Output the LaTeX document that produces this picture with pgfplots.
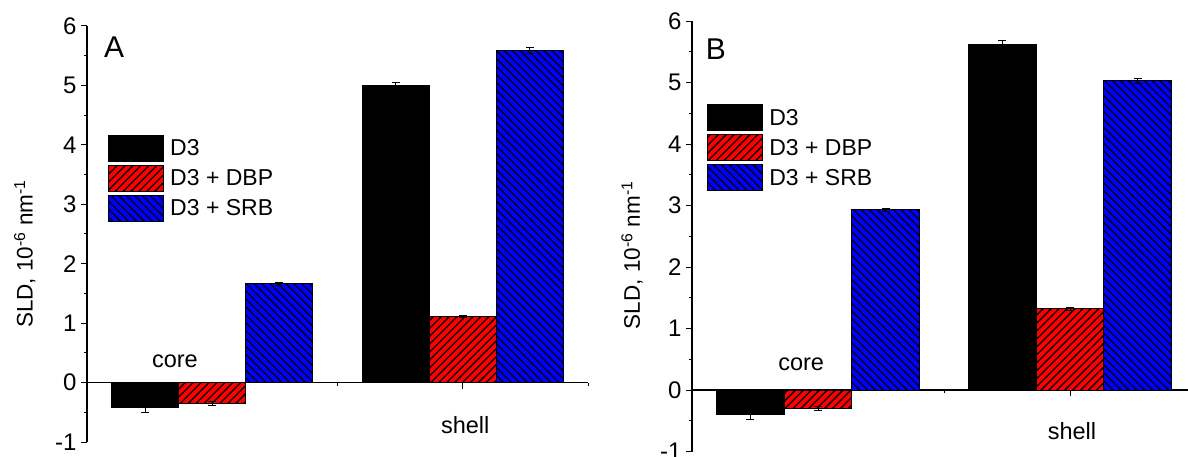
\documentclass[border=0pt]{standalone}
\usepackage{fontspec}
\setmainfont{Liberation Sans}
\usepackage{pgfplots}
\pgfplotsset{compat=1.18}
\usetikzlibrary{patterns.meta}

\pgfplotsset{
 sld/.style={
   scale only axis,
   xmin=0.5,xmax=2.5,ymin=-1,ymax=6,
   axis y line*=left, axis x line*=middle,
   xtick={1,2}, xticklabels={}, minor xtick={1.5,2.5},
   ytick={-1,0,...,6}, minor ytick={-0.5,0.5,...,5.5},
   tick align=outside,
   major tick length=6bp, minor tick length=3bp,
   every tick/.style={black, line width=1bp},
   axis line style={black, line width=1.2bp},
   tick label style={font=\fontsize{24bp}{27bp}\selectfont},
   /pgf/number format/assume math mode=true,
   yticklabel style={xshift=-1bp},
   ylabel={SLD, 10\textsuperscript{-6} nm\textsuperscript{-1}},
   ylabel style={font=\fontsize{22.5bp}{25bp}\selectfont},
   bar width=0.268,
   legend style={draw=none, fill=none, anchor=north west,
     font=\fontsize{23bp}{26bp}\selectfont, row sep=3bp, inner sep=0pt,
     cells={anchor=west}},
   error bars/error bar style={black, line width=0.8bp},
   error bars/error mark options={black, line width=0.8bp, mark size=4bp, rotate=90},
 },
 barleg/.style={legend image code/.code={\draw[##1] (0bp,-13bp) rectangle (55bp,13bp);}},
 d3/.style={ybar, bar shift=0, fill=black, draw=black, line width=1bp, barleg,
    error bars/.cd, y dir=both, y explicit},
 dbp/.style={ybar, bar shift=0, fill=red, draw=black, line width=1bp, barleg,
    postaction={pattern={Lines[angle=45,distance=5.6bp,line width=1.3bp]}, pattern color=black},
    error bars/.cd, y dir=both, y explicit},
 srb/.style={ybar, bar shift=0, fill=blue, draw=black, line width=1bp, barleg,
    postaction={pattern={Lines[angle=-45,distance=5.6bp,line width=1.3bp]}, pattern color=black},
    error bars/.cd, y dir=both, y explicit},
}

\begin{document}
\begin{tikzpicture}
\useasboundingbox (0,0) rectangle (1188bp,457bp);
% Panel A
\begin{axis}[sld, at={(87bp,15bp)}, anchor=south west, width=501bp, height=416bp,
  ylabel style={at={(axis description cs:-0.124,0.452)}, anchor=center},
  legend style={at={(axis description cs:0.042,0.738)}}]
\addplot[d3] coordinates {(0.732,-0.42) +- (0,0.09) (1.732,5.00) +- (0,0.05)};
\addplot[dbp] coordinates {(1,-0.35) +- (0,0.03) (2,1.11) +- (0,0.02)};
\addplot[srb] coordinates {(1.268,1.66) +- (0,0.03) (2.268,5.59) +- (0,0.05)};
\legend{\hspace{4bp}D3, \hspace{4bp}D3 + DBP, \hspace{4bp}D3 + SRB}
\node[font=\fontsize{23.5bp}{26bp}\selectfont, anchor=base] at (axis cs:0.851,0.26) {core};
\node[font=\fontsize{23.5bp}{26bp}\selectfont, anchor=base] at (axis cs:2.01,-0.85) {shell};
\node[font=\fontsize{30bp}{34bp}\selectfont, anchor=center] at (axis cs:0.608,5.64) {A};
\end{axis}
% Panel B
\begin{axis}[sld, at={(692bp,5.5bp)}, anchor=south west, width=504bp, height=430.5bp,
  ylabel style={at={(axis description cs:-0.119,0.456)}, anchor=center},
  legend style={at={(axis description cs:0.03,0.807)}}]
\addplot[d3] coordinates {(0.732,-0.40) +- (0,0.08) (1.732,5.61) +- (0,0.07)};
\addplot[dbp] coordinates {(1,-0.30) +- (0,0.03) (2,1.32) +- (0,0.02)};
\addplot[srb] coordinates {(1.268,2.93) +- (0,0.03) (2.268,5.03) +- (0,0.04)};
\legend{\hspace{4bp}D3, \hspace{4bp}D3 + DBP, \hspace{4bp}D3 + SRB}
\node[font=\fontsize{23.5bp}{26bp}\selectfont, anchor=base] at (axis cs:0.933,0.325) {core};
\node[font=\fontsize{23.5bp}{26bp}\selectfont, anchor=base] at (axis cs:2.008,-0.81) {shell};
\node[font=\fontsize{30bp}{34bp}\selectfont, anchor=center] at (axis cs:0.595,5.545) {B};
\end{axis}
\end{tikzpicture}
\end{document}
